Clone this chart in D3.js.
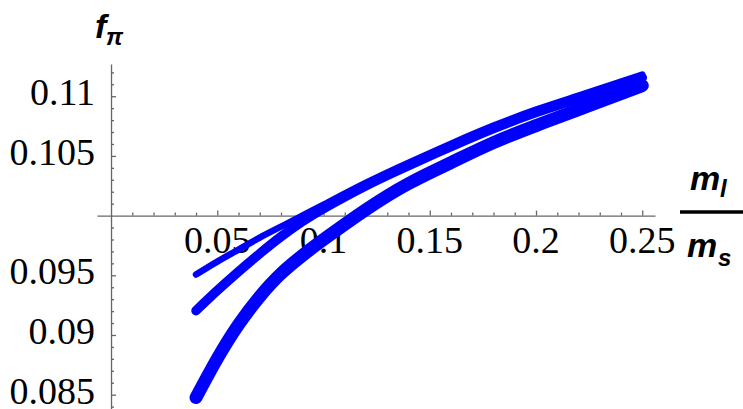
<!DOCTYPE html>
<html>
<head>
<meta charset="utf-8">
<script src="https://cdn.jsdelivr.net/npm/d3@7"></script>
<style>
  body { margin: 0; background: #fff; }
  svg { display: block; }
</style>
</head>
<body>
<div id="chart"></div>
<script>
// mass ratio m_l / m_s where the curves were sampled
const ratio = [0.04, 0.05, 0.06, 0.07, 0.08, 0.09, 0.10, 0.12, 0.14, 0.16, 0.18, 0.20, 0.22, 0.24, 0.25];

// f_pi, one array per curve
const fpiThin  = [0.09506, 0.09615, 0.09715, 0.09816, 0.09908, 0.10000, 0.10092, 0.10276, 0.10444, 0.10603, 0.10754, 0.10888, 0.11005, 0.11122, 0.11181];
const fpiMid   = [0.09204, 0.09372, 0.09531, 0.09682, 0.09824, 0.09950, 0.10059, 0.10251, 0.10419, 0.10578, 0.10729, 0.10863, 0.10980, 0.11097, 0.11156];
const fpiThick = [0.08476, 0.08802, 0.09087, 0.09322, 0.09514, 0.09665, 0.09799, 0.10050, 0.10268, 0.10444, 0.10611, 0.10754, 0.10888, 0.11022, 0.11089];

// tick values and labels
const xMajor = [0.05, 0.1, 0.15, 0.2, 0.25];
const xLabels = ["0.05", "0.1", "0.15", "0.2", "0.25"];
const yMajor = [0.085, 0.09, 0.095, 0.105, 0.11];
const yLabels = ["0.085", "0.09", "0.095", "0.105", "0.11"];

const width = 743, height = 409;

const svg = d3.select("#chart")
  .append("svg")
  .attr("width", width)
  .attr("height", height);

// scales (axes cross at x = 0, y = 0.1)
const x = d3.scaleLinear().domain([-0.0066, 0.256]).range([97, 655]);
const y = d3.scaleLinear().domain([0.0838, 0.1127]).range([409, 64]);

const axisColor = "#666";
const numFont = '"Liberation Serif"';
const titleFont = '"Liberation Sans"';

// minor ticks every 0.01 on x, every 0.001 on y
const xMinor = d3.range(1, 26).filter(i => i % 5 !== 0).map(i => i / 100);
const yMinor = d3.range(84, 113).filter(i => i % 5 !== 0).map(i => i / 1000);

// x axis ticks (drawn by d3.axis, labels added as plain text below)
const xAxisG = svg.append("g").attr("transform", `translate(0,${y(0.1)})`);
xAxisG.append("g")
  .call(d3.axisBottom(x).tickValues(xMinor).tickSize(-3).tickFormat(""))
  .call(g => g.select(".domain").remove());
xAxisG.append("g")
  .call(d3.axisBottom(x).tickValues(xMajor).tickFormat("").tickSizeInner(-5).tickSizeOuter(0));

// y axis ticks
const yAxisG = svg.append("g").attr("transform", `translate(${x(0)},0)`);
yAxisG.append("g")
  .call(d3.axisLeft(y).tickValues(yMinor).tickSize(-3).tickFormat(""))
  .call(g => g.select(".domain").remove());
yAxisG.append("g")
  .call(d3.axisLeft(y).tickValues(yMajor).tickFormat("").tickSizeInner(-5).tickSizeOuter(0));

svg.selectAll(".domain, .tick line")
  .attr("stroke", axisColor)
  .attr("stroke-width", 1.3);

// tick labels
const numText = (tx, ty, txt, anchor) => svg.append("text")
  .attr("x", tx)
  .attr("y", ty)
  .attr("text-anchor", anchor)
  .style("font-family", numFont)
  .style("font-size", "38px")
  .text(txt);

xMajor.forEach((v, i) => numText(x(v), y(0.1) + 37, xLabels[i], "middle"));
yMajor.forEach((v, i) => numText(x(0) - 16, y(v) + 9, yLabels[i], "end"));

// curves
const line = d3.line()
  .x(d => x(d[0]))
  .y(d => y(d[1]))
  .curve(d3.curveNatural);

const series = [
  {values: fpiThick, w: 13},
  {values: fpiMid, w: 9.5},
  {values: fpiThin, w: 6.5}
];

series.forEach(s => {
  svg.append("path")
    .datum(ratio.map((r, i) => [r, s.values[i]]))
    .attr("fill", "none")
    .attr("stroke", "#0000ff")
    .attr("stroke-width", s.w)
    .attr("stroke-linecap", "round")
    .attr("stroke-linejoin", "round")
    .attr("d", line);
});

// axis titles
const title = (tx, ty, txt, size) => svg.append("text")
  .attr("x", tx)
  .attr("y", ty)
  .style("font-family", titleFont)
  .style("font-weight", "bold")
  .style("font-style", "italic")
  .style("font-size", size + "px")
  .text(txt);

title(95, 38, "f", 34);
title(106, 45, "\u03c0", 24);

title(690, 190, "m", 34);
title(720, 197, "l", 24);
svg.append("line")
  .attr("x1", 680).attr("x2", 743)
  .attr("y1", 212).attr("y2", 212)
  .attr("stroke", "#000")
  .attr("stroke-width", 3.5);
title(687, 257, "m", 34);
title(718, 266, "s", 24);
</script>
</body>
</html>
